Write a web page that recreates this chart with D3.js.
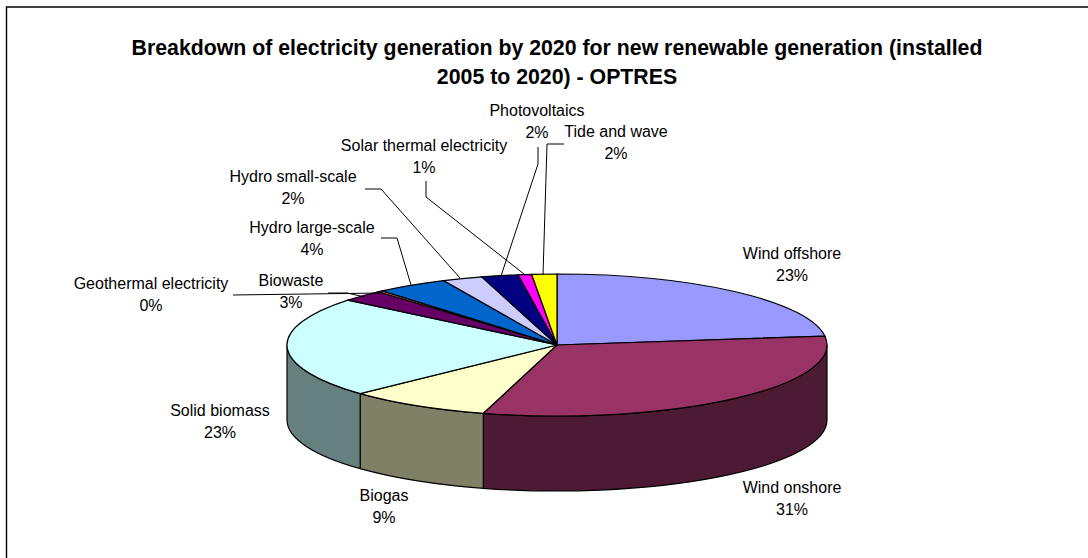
<!DOCTYPE html>
<html><head><meta charset="utf-8">
<script src="https://cdn.jsdelivr.net/npm/d3@7/dist/d3.min.js"></script>
<style>html,body{margin:0;padding:0;background:#fff}svg{display:block}text{font-family:"Liberation Sans",Arial,sans-serif;fill:#000}</style>
</head><body><svg id="c" width="1088" height="558"></svg>
<script>
const categories=["Wind offshore","Wind onshore","Biogas","Solid biomass","Biowaste","Geothermal electricity","Hydro large-scale","Hydro small-scale","Photovoltaics","Solar thermal electricity","Tide and wave"];
const values=[23,31.4,8.6,22.9,2.6,0.3,4.3,2.4,2.2,0.8,1.5];
const topColors=["#9999FF","#993366","#FFFFCC","#CCFFFF","#660066","#FF8080","#0066CC","#CCCCFF","#000080","#FF00FF","#FFFF00"];
const titleLines=["Breakdown of electricity generation by 2020 for new renewable generation (installed","2005 to 2020) - OPTRES"];
const labelAnchors=[[792,259],[792,493],[384,501],[220,416],[291,286],[151,289],[312,233],[293,182],[537,116],[424,151],[616,137]];
const leaders=[null,null,null,null,
 [[328,293],[347,293],[365,297]],
 [[233,295],[383,293]],
 [[381,238],[397,238],[411,285]],
 [[365,189],[381,189],[460,278]],
 [[538,147],[538,164],[501,276]],
 [[426,181],[426,197],[524,274]],
 [[564,144],[547,144],[543,275]]];
const cx=557,cy=345,rx=270,ry=71,depth=75;
const svg=d3.select("#c");
svg.append("path").attr("d",d3.line()([[6.5,558],[6.5,7],[1088,7]])).attr("fill","none").attr("stroke","#000").attr("stroke-width",1.4);
svg.selectAll("text.title").data(titleLines).join("text").attr("class","title")
 .attr("x",557).attr("y",(d,i)=>55+i*29).attr("text-anchor","middle").attr("font-weight","bold").attr("font-size",21.3).text(d=>d);
const pie=d3.pie().sort(null).value(d=>d)(values);
const pt=(a,dy=0)=>[cx+rx*Math.sin(a),cy-ry*Math.cos(a)+dy];
const lo=Math.PI/2,hi=Math.PI*1.5;
const sideData=pie.map((d,i)=>({a0:Math.max(d.startAngle,lo),a1:Math.min(d.endAngle,hi),i})).filter(d=>d.a1>d.a0);
const sidePath=d=>{const p=pt(d.a0),q=pt(d.a1),r=pt(d.a1,depth),s=pt(d.a0,depth);
 return `M${p}A${rx},${ry} 0 0 1 ${q}L${r}A${rx},${ry} 0 0 0 ${s}Z`;};
svg.append("g").selectAll("path").data(sideData).join("path").attr("d",sidePath)
 .attr("fill",d=>{const c=d3.rgb(topColors[d.i]);return d3.rgb(c.r/2,c.g/2,c.b/2).toString();})
 .attr("stroke","#000").attr("stroke-width",1.2).attr("stroke-linejoin","round");
const arc=d3.arc().innerRadius(0).outerRadius(rx);
svg.append("g").attr("transform",`translate(${cx},${cy}) scale(1,${ry/rx})`)
 .selectAll("path").data(pie).join("path").attr("d",arc).attr("fill",(d,i)=>topColors[i])
 .attr("stroke","#000").attr("stroke-width",1.2).attr("vector-effect","non-scaling-stroke");
const line=d3.line();
svg.append("g").selectAll("path").data(leaders.filter(Boolean)).join("path").attr("d",d=>line(d))
 .attr("fill","none").attr("stroke","#000").attr("stroke-width",1);
const lab=svg.append("g").selectAll("g").data(categories).join("g");
lab.append("text").attr("x",(d,i)=>labelAnchors[i][0]).attr("y",(d,i)=>labelAnchors[i][1]).attr("text-anchor","middle").attr("font-size",16).text(d=>d);
lab.append("text").attr("x",(d,i)=>labelAnchors[i][0]).attr("y",(d,i)=>labelAnchors[i][1]+21.5).attr("text-anchor","middle").attr("font-size",16).text((d,i)=>Math.round(values[i])+"%");
</script></body></html>
